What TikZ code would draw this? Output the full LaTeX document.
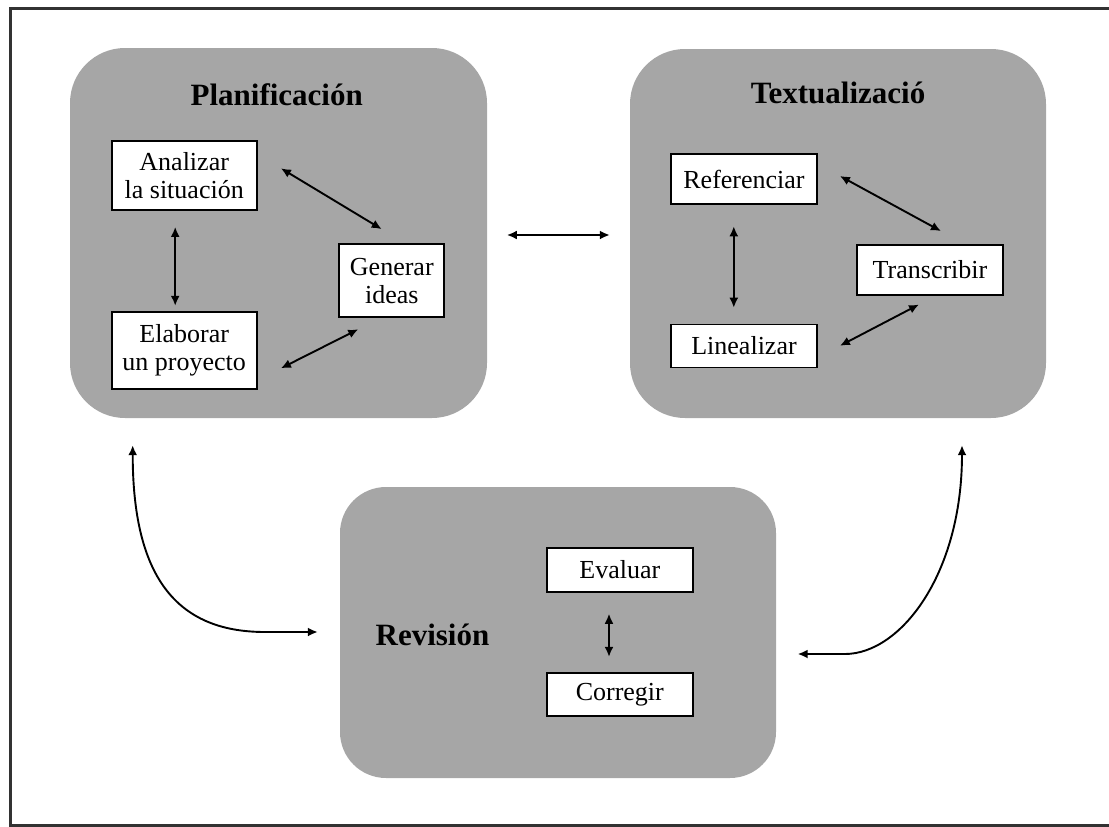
\documentclass[tikz,border=0pt]{standalone}
\usepackage{fontspec}
\setmainfont{Liberation Serif}
\usetikzlibrary{arrows.meta,calc}
\definecolor{boxgray}{RGB}{166,166,166}
\definecolor{framegray}{RGB}{50,50,50}
\begin{document}
\begin{tikzpicture}[x=1pt,y=-1pt,
  bigbox/.style={fill=boxgray, inner sep=0pt},
  smallbox/.style={draw=black, fill=white, line width=1.8pt, inner sep=0pt, align=center,
    font=\fontsize{26}{28}\selectfont},
  titletext/.style={font=\bfseries\fontsize{31}{34}\selectfont, anchor=base, inner sep=0pt},
  arr/.style={line width=1.9pt, {Latex[length=10pt,width=9pt]}-{Latex[length=10pt,width=9pt]}}]
\useasboundingbox (0,0) rectangle (1109,827);
% outer frame
\draw[framegray, line width=3pt] (10,8) rectangle (1125,825);

% big boxes
\node[bigbox, rounded corners=55pt, minimum width=417pt, minimum height=370pt] (plan) at (278.5,233) {};
\node[bigbox, rounded corners=55pt, minimum width=416pt, minimum height=369pt] (text) at (838,233.5) {};
\node[bigbox, rounded corners=46pt, minimum width=436pt, minimum height=291pt] (rev) at (558,632.5) {};

% titles
\node[titletext] (plantitle) at (276.7,105) {Planificación};
\node[titletext] (textitle) at (838,103) {Textualizació};
\node[titletext] (revtitle) at (432.5,645) {Revisión};

% small boxes
\node[smallbox, minimum width=145pt, minimum height=69pt] (ana) at (184.2,175.5) {Analizar\\la situación};
\node[smallbox, minimum width=145pt, minimum height=77.6pt] (ela) at (184.2,350.5) {Elaborar\\un proyecto};
\node[smallbox, minimum width=105pt, minimum height=73.3pt] (gen) at (391.8,280.7) {Generar\\ideas};
\node[smallbox, minimum width=146pt, minimum height=50pt] (ref) at (744,179) {Referenciar};
\node[smallbox, minimum width=146pt, minimum height=43pt] (lin) at (744,346) {Linealizar};
\node[smallbox, minimum width=146.4pt, minimum height=50pt] (tra) at (930,270) {Transcribir};
\node[smallbox, minimum width=146.4pt, minimum height=43.7pt] (eva) at (619.8,570) {Evaluar};
\node[smallbox, minimum width=146.4pt, minimum height=42.7pt] (cor) at (619.8,694.4) {Corregir};

% arrows inside Planificación
\draw[arr] ($(ana.south)+(-9,16)$) -- ($(ela.north)+(-9,-5)$);
\draw[arr] ($(ana.east)+(23.3,-7.2)$) -- ($(gen.north)+(-10.1,-14)$);
\draw[arr] ($(ela.east)+(23.3,17.8)$) -- ($(gen.south)+(-33.5,11)$);
% arrows inside Textualización
\draw[arr] ($(ref.south)+(-10.2,21.4)$) -- ($(lin.north)+(-10.2,-15.9)$);
\draw[arr] ($(ref.east)+(22,-3)$) -- ($(tra.north)+(11,-13)$);
\draw[arr] ($(lin.east)+(22,-0.2)$) -- ($(tra.south)+(-11,8.6)$);
% arrow inside Revisión
\draw[arr] ($(eva.south)+(-10.8,21)$) -- ($(cor.north)+(-10.8,-15.3)$);
% between Planificación and Textualización
\draw[arr] ($(plan.east)+(19.7,2)$) -- ($(text.west)+(-20,1.5)$);
% curved arrows to Revisión
\draw[arr] ($(plan.south)+(-145.8,27)$) .. controls (132.7,575) and (175,632) .. (265,632) -- ($(rev.west)+(-22,-0.5)$);
\draw[arr] ($(text.south)+(124,27)$) .. controls (962,575) and (900,654) .. (845,654) -- ($(rev.east)+(21.5,21.5)$);
\end{tikzpicture}
\end{document}
